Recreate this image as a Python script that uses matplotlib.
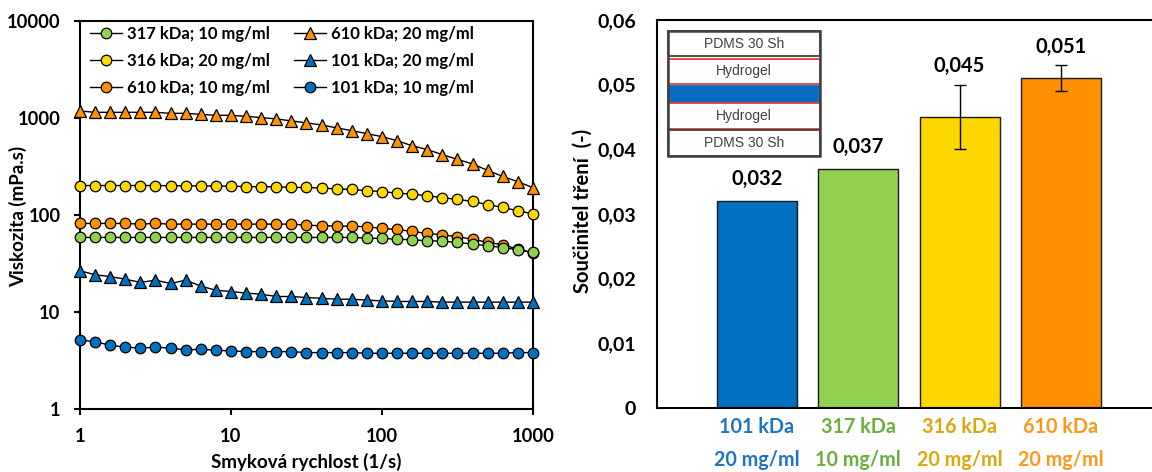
import matplotlib
matplotlib.use("Agg")
import matplotlib.pyplot as plt
from matplotlib.patches import Rectangle
from matplotlib.ticker import FixedLocator, FixedFormatter, NullLocator

plt.rcParams['font.family'] = ['Lato', 'DejaVu Sans']
plt.rcParams['font.weight'] = 'bold'

# --- viscosity curves ---
shear_rate = [1, 1.26, 1.58, 2.0, 2.51, 3.16, 3.98, 5.01, 6.31, 7.94,
              10, 12.6, 15.8, 20.0, 25.1, 31.6, 39.8, 50.1, 63.1, 79.4,
              100, 126, 158, 200, 251, 316, 398, 501, 631, 794, 1000]

visc_317_10 = [58.4, 58.4, 58.4, 58.4, 58.4, 58.4, 58.4, 58.4, 58.4, 58.4,
               58.4, 58.4, 58.4, 58.4, 58.4, 58.4, 58.4, 58.4, 58.4, 57.5,
               57.0, 56.1, 55.2, 54.0, 53.5, 51.9, 49.9, 47.9, 46.0, 43.6, 41.0]
visc_316_20 = [200, 200, 200, 200, 200, 200, 199, 199, 198, 198,
               197, 195, 194, 194, 191, 191, 188, 185, 182, 177,
               173, 167, 163, 157, 150, 144, 137, 127, 119, 110, 102]
visc_610_10 = [81.4, 81.4, 81.4, 81.4, 80.1, 81.4, 80.1, 80.1, 80.1, 80.1,
               80.1, 80.1, 80.1, 80.1, 80.1, 78.2, 77.0, 76.4, 76.4, 75.2,
               72.3, 70.6, 67.3, 64.2, 62.2, 59.3, 56.1, 51.9, 49.1, 44.3, 40.3]
visc_610_20 = [1170, 1134, 1134, 1134, 1134, 1134, 1107, 1107, 1080, 1056,
               1056, 1031, 1000, 969, 925, 882, 841, 783, 735, 684,
               637, 579, 514, 468, 416, 372, 333, 286, 248, 219, 190]
visc_101_20 = [26.5, 24.1, 23.1, 21.7, 20.1, 21.2, 19.6, 21.2, 18.4, 16.7,
               16.2, 15.6, 15.2, 14.4, 14.4, 14.05, 13.8, 13.5, 13.5, 13.2,
               13.0, 12.8, 12.8, 12.8, 12.6, 12.6, 12.6, 12.6, 12.6, 12.6, 12.6]
visc_101_10 = [5.11, 4.94, 4.53, 4.35, 4.22, 4.35, 4.22, 4.06, 4.12, 4.03,
               3.96, 3.90, 3.90, 3.90, 3.90, 3.81, 3.81, 3.81, 3.81, 3.75,
               3.75, 3.75, 3.75, 3.75, 3.75, 3.75, 3.75, 3.75, 3.75, 3.81, 3.81]

series = [
    ("317 kDa; 10 mg/ml", visc_317_10, "o", "#92D050"),
    ("316 kDa; 20 mg/ml", visc_316_20, "o", "#FFD700"),
    ("610 kDa; 10 mg/ml", visc_610_10, "o", "#FF9000"),
    ("610 kDa; 20 mg/ml", visc_610_20, "^", "#FF9000"),
    ("101 kDa; 20 mg/ml", visc_101_20, "^", "#0070C0"),
    ("101 kDa; 10 mg/ml", visc_101_10, "o", "#0070C0"),
]

# --- friction coefficients ---
bar_kda = ["101 kDa", "317 kDa", "316 kDa", "610 kDa"]
bar_conc = ["20 mg/ml", "10 mg/ml", "20 mg/ml", "20 mg/ml"]
friction = [0.032, 0.037, 0.045, 0.051]
friction_err = [0.0, 0.0, 0.005, 0.002]
friction_labels = ["0,032", "0,037", "0,045", "0,051"]
bar_colors = ["#0070C0", "#92D050", "#FFD700", "#FF9000"]
label_colors = ["#1F74C2", "#6CAE3A", "#D8A80C", "#FF9618"]
y_ticks = [0, 0.01, 0.02, 0.03, 0.04, 0.05, 0.06]
y_tick_labels = ["0", "0,01", "0,02", "0,03", "0,04", "0,05", "0,06"]

W, H = 1152, 472
fig = plt.figure(figsize=(W / 100, H / 100), dpi=100)

# ================= left: viscosity =================
ax1 = fig.add_axes([80 / W, 63 / H, 453 / W, 388.5 / H])
draw_order = [3, 1, 2, 0, 4, 5]
handles = {}
for idx in draw_order:
    name, vals, mk, col = series[idx]
    ms = 8.0 if mk == "^" else 7.6
    h, = ax1.plot(shear_rate, vals, color="black", lw=1.0, marker=mk,
                  markersize=ms, markerfacecolor=col, markeredgecolor="black",
                  markeredgewidth=0.9, label=name, clip_on=False, zorder=3)
    handles[idx] = h
ax1.set_xscale("log")
ax1.set_yscale("log")
ax1.set_xlim(1, 1000)
ax1.set_ylim(1, 10000)
ax1.xaxis.set_major_locator(FixedLocator([1, 10, 100, 1000]))
ax1.xaxis.set_major_formatter(FixedFormatter(["1", "10", "100", "1000"]))
ax1.yaxis.set_major_locator(FixedLocator([1, 10, 100, 1000, 10000]))
ax1.yaxis.set_major_formatter(FixedFormatter(["1", "10", "100", "1000", "10000"]))
ax1.xaxis.set_minor_locator(NullLocator())
ax1.yaxis.set_minor_locator(NullLocator())
ax1.tick_params(axis="both", direction="out", length=4, width=1.5,
                labelsize=13.2, pad=10)
ax1.tick_params(axis="x", pad=10)
for sp in ax1.spines.values():
    sp.set_linewidth(1.5)
fig.text(306 / W, 1 - 462 / H, "Smyková rychlost (1/s)", ha="center",
         va="center", fontsize=13.5, fontweight="bold")
fig.text(18 / W, 1 - 216 / H, "Viskozita (mPa.s)", ha="center", va="center",
         rotation=90, fontsize=13.5, fontweight="bold")

leg = ax1.legend([handles[i] for i in range(6)], [s[0] for s in series],
                 ncol=2, loc="upper left", bbox_to_anchor=(0.012, 1.0),
                 frameon=False, fontsize=12, handlelength=1.9,
                 handletextpad=0.3, columnspacing=1.45, labelspacing=0.68,
                 borderaxespad=0.1, borderpad=0.2)

# ================= right: friction =================
ax2 = fig.add_axes([657 / W, 64 / H, 495 / W, 388 / H])
xs = list(range(len(friction)))
ax2.bar(xs, friction, width=0.79, color=bar_colors, edgecolor="#1a1a1a",
        linewidth=1.0, zorder=2)
for i in xs:
    if friction_err[i] > 0:
        ax2.errorbar(i, friction[i], yerr=friction_err[i], fmt="none",
                     ecolor="black", elinewidth=1.0, capsize=4, capthick=1.0,
                     zorder=3)
        off = 13.5
    else:
        off = 16.0
    ax2.annotate(friction_labels[i], xy=(i, friction[i] + friction_err[i]),
                 xytext=(0, off), textcoords="offset points", ha="center",
                 va="center", fontsize=14.5, fontweight="bold")
    ax2.annotate(bar_kda[i], xy=(i, 0), xycoords=("data", "axes fraction"),
                 xytext=(0, -14), textcoords="offset points", ha="center",
                 va="center", fontsize=14.2, fontweight="bold",
                 color=label_colors[i], annotation_clip=False)
    ax2.annotate(bar_conc[i], xy=(i, 0), xycoords=("data", "axes fraction"),
                 xytext=(0, -37.5), textcoords="offset points", ha="center",
                 va="center", fontsize=14.2, fontweight="bold",
                 color=label_colors[i], annotation_clip=False)
ax2.set_xlim(-0.987, 3.90)
ax2.set_ylim(0, 0.06)
ax2.set_xticks([])
ax2.yaxis.set_major_locator(FixedLocator(y_ticks))
ax2.yaxis.set_major_formatter(FixedFormatter(y_tick_labels))
ax2.tick_params(axis="y", length=0, labelsize=14, pad=15)
for sp in ax2.spines.values():
    sp.set_linewidth(1.5)
ax2.spines["right"].set_visible(False)
fig.text(583 / W, 1 - 211 / H, "Součinitel tření  (-)", ha="center",
         va="center", rotation=90, fontsize=14.5, fontweight="bold")

# layered contact sketch in the upper left corner
ax_h = 388.0
def frac(px):
    return (408.0 - px) / ax_h
x0 = (668 - 657) / 495
w = (820 - 668) / 495
layers = [
    (31, 56, "white", "#404040", "PDMS 30 Sh"),
    (59, 84, "white", "#E03C3C", "Hydrogel"),
    (86, 102, "#0A6CC0", "#0A6CC0", ""),
    (103, 129, "white", "#E03C3C", "Hydrogel"),
    (130, 156, "white", "#404040", "PDMS 30 Sh"),
]
for top, bot, fc, ec, txt in layers:
    y0 = frac(bot)
    h = frac(top) - frac(bot)
    ax2.add_patch(Rectangle((x0, y0), w, h, transform=ax2.transAxes,
                            facecolor=fc, edgecolor=ec, linewidth=1.3,
                            zorder=4, clip_on=False))
    if txt:
        ax2.text(x0 + w / 2, y0 + h / 2, txt, transform=ax2.transAxes,
                 ha="center", va="center", fontsize=10, fontweight="normal",
                 family="Liberation Sans", color="#404040", zorder=5)
ax2.add_patch(Rectangle((x0, frac(156)), w, frac(31) - frac(156),
                        transform=ax2.transAxes, facecolor="none",
                        edgecolor="#404040", linewidth=1.8, zorder=6,
                        clip_on=False))

fig.savefig("out.png", dpi=100)
